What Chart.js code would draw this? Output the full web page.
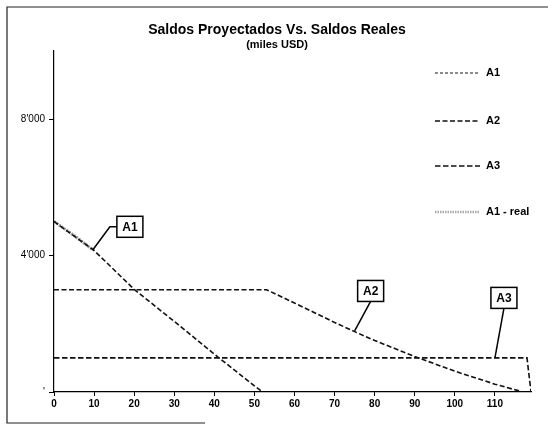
<!DOCTYPE html>
<html><head><meta charset="utf-8">
<script src="https://cdn.jsdelivr.net/npm/chart.js@4.4.1/dist/chart.umd.min.js"></script>
<style>html,body{margin:0;padding:0;background:#fff;} canvas{display:block}</style>
</head><body>
<canvas id="c" width="548" height="428"></canvas>
<script>
// ---- data ----
const titleText = "Saldos Proyectados Vs. Saldos Reales";
const subtitleText = "(miles USD)";
const seriesNames = ["A1", "A2", "A3", "A1 - real"];
const a1X = [0, 10, 20, 30, 40, 50, 52];
const a1Y = [5000, 4150, 3010, 2070, 1110, 180, 0];
const a2X = [0, 53, 60, 70, 75, 80, 90, 100, 110, 117];
const a2Y = [3000, 3000, 2610, 2040, 1770, 1510, 1040, 610, 230, 0];
const a3X = [0, 118, 119];
const a3Y = [1000, 1000, 0];
const a1rX = [0, 5, 9.7];
const a1rY = [5000, 4590, 4170];
const xTickValues = [0, 10, 20, 30, 40, 50, 60, 70, 80, 90, 100, 110];
const yTickValues = [0, 4000, 8000];
const yTickLabels = ["'", "4'000", "8'000"];
const calloutLabels = ["A1", "A2", "A3"];
const calloutAnchorX = [9.7, 75, 110];
const calloutAnchorY = [4170, 1790, 1000];

// ---- styles ----
const FONT = "'Liberation Sans', Arial, sans-serif";
const calloutStyle = [
  {dx: 37, dy: -23, elbow: true},
  {dx: 16, dy: -40, elbow: false},
  {dx: 9, dy: -60, elbow: false}
];
const pts = (xs, ys) => xs.map((x, i) => ({x: x, y: ys[i]}));

const dsStyles = [
  {borderColor: '#111', borderWidth: 1.6, borderDash: [5, 2.5]},
  {borderColor: '#111', borderWidth: 1.6, borderDash: [5, 2.5]},
  {borderColor: '#111', borderWidth: 1.6, borderDash: [5.5, 2.5]},
  {borderColor: '#999', borderWidth: 3, borderDash: [2, 1]}
];
const legendSample = [
  {color: '#666', width: 1.4, dash: [3, 2]},
  {color: '#111', width: 1.6, dash: [5, 2.5]},
  {color: '#111', width: 1.6, dash: [5.5, 2.5]},
  {color: '#aaa', width: 2.5, dash: [1.5, 1]}
];

const series = [pts(a1X, a1Y), pts(a2X, a2Y), pts(a3X, a3Y), pts(a1rX, a1rY)];

const decor = {
  id: 'decor',
  afterDatasetsDraw(chart) {
    const ctx = chart.ctx, xs = chart.scales.x, ys = chart.scales.y;
    ctx.save();
    calloutLabels.forEach((lab, i) => {
      const ax = xs.getPixelForValue(calloutAnchorX[i]);
      const ay = ys.getPixelForValue(calloutAnchorY[i]);
      const st = calloutStyle[i];
      const cx = ax + st.dx, cy = ay + st.dy;
      const w = 26, h = 21;
      ctx.strokeStyle = '#000';
      ctx.lineWidth = 1.5;
      ctx.setLineDash([]);
      ctx.beginPath();
      if (st.elbow) {
        ctx.moveTo(cx - w / 2, cy);
        ctx.lineTo(cx - w / 2 - 7, cy);
        ctx.lineTo(ax, ay);
      } else {
        ctx.moveTo(cx, cy + h / 2);
        ctx.lineTo(ax, ay);
      }
      ctx.stroke();
      ctx.fillStyle = '#fff';
      ctx.fillRect(cx - w / 2, cy - h / 2, w, h);
      ctx.strokeRect(cx - w / 2, cy - h / 2, w, h);
      ctx.fillStyle = '#000';
      ctx.font = "bold 12px " + FONT;
      ctx.textAlign = 'center';
      ctx.textBaseline = 'middle';
      ctx.fillText(lab, cx, cy + 1);
    });
    ctx.restore();
  },
  afterDraw(chart) {
    const ctx = chart.ctx;
    ctx.save();
    // title
    ctx.fillStyle = '#000';
    ctx.textAlign = 'center';
    ctx.textBaseline = 'middle';
    ctx.font = "bold 14px " + FONT;
    ctx.fillText(titleText, 277, 30);
    ctx.font = "bold 11px " + FONT;
    ctx.fillText(subtitleText, 277, 45);
    // legend
    const rows = [73, 121, 166, 212];
    seriesNames.forEach((n, i) => {
      const s = legendSample[i];
      ctx.strokeStyle = s.color;
      ctx.lineWidth = s.width;
      ctx.setLineDash(s.dash);
      ctx.beginPath();
      ctx.moveTo(435, rows[i]);
      ctx.lineTo(480, rows[i]);
      ctx.stroke();
      ctx.fillStyle = '#000';
      ctx.font = "bold 11px " + FONT;
      ctx.textAlign = 'left';
      ctx.fillText(n, 486, rows[i]);
    });
    // frame
    ctx.setLineDash([]);
    ctx.strokeStyle = '#222';
    ctx.lineWidth = 1.2;
    ctx.beginPath();
    ctx.moveTo(548, 7);
    ctx.lineTo(7, 7);
    ctx.lineTo(7, 423);
    ctx.lineTo(205, 423);
    ctx.stroke();
    ctx.restore();
  }
};

new Chart(document.getElementById('c'), {
  type: 'line',
  data: {
    datasets: series.map((d, i) => Object.assign({
      label: seriesNames[i],
      data: d,
      pointRadius: 0,
      fill: false,
      tension: 0
    }, dsStyles[i]))
  },
  options: {
    responsive: false,
    animation: false,
    layout: {padding: {left: 0, right: 17, top: 51, bottom: 0}},
    plugins: {legend: {display: false}, tooltip: {enabled: false}, title: {display: false}},
    scales: {
      x: {
        type: 'linear', min: 0, max: 119,
        afterFit: s => { s.height = 36; },
        afterBuildTicks: s => { s.ticks = xTickValues.map(v => ({value: v})); },
        grid: {drawOnChartArea: false, color: '#000', tickLength: 4},
        border: {color: '#000', width: 1.2},
        ticks: {color: '#000', padding: 2, font: {family: FONT, size: 10, weight: 'bold'}, maxRotation: 0}
      },
      y: {
        type: 'linear', min: 0, max: 10000,
        afterFit: s => { s.width = 54; },
        afterBuildTicks: s => { s.ticks = yTickValues.map(v => ({value: v})); },
        grid: {drawOnChartArea: false, color: '#000', tickLength: 5},
        border: {color: '#000', width: 1.2},
        ticks: {color: '#000', padding: 4, font: {family: FONT, size: 10},
          callback: (v) => { const i = yTickValues.indexOf(v); return i >= 0 ? yTickLabels[i] : ''; }}
      }
    }
  },
  plugins: [decor]
});
</script>
</body></html>
